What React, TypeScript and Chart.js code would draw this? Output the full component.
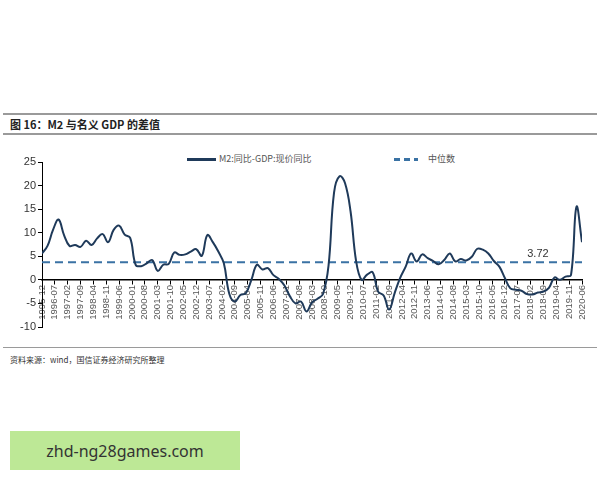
import React, { useEffect, useRef } from "react";
import { Chart, registerables } from "chart.js";

Chart.register(...registerables);

// x-axis tick labels (every 7 months from 1995-12 to 2020-06)
const tickLabels = [
  "1995-12", "1996-07", "1997-02", "1997-09", "1998-04", "1998-11", "1999-06",
  "2000-01", "2000-08", "2001-03", "2001-10", "2002-05", "2002-12", "2003-07",
  "2004-02", "2004-09", "2005-04", "2005-11", "2006-06", "2007-01", "2007-08",
  "2008-03", "2008-10", "2009-05", "2009-12", "2010-07", "2011-02", "2011-09",
  "2012-04", "2012-11", "2013-06", "2014-01", "2014-08", "2015-03", "2015-10",
  "2016-05", "2016-12", "2017-07", "2018-02", "2018-09", "2019-04", "2019-11",
  "2020-06",
];

// quarterly values, 1995Q4 .. 2020Q2 (M2 yoy minus nominal GDP yoy)
const diffValues = [
  5.6,                    // 1995Q4
  7.2, 10.6, 12.8, 9.5,   // 1996
  7.2, 7.4, 7.0, 8.3,     // 1997
  7.4, 8.8, 9.7, 8.0,     // 1998
  10.6, 11.5, 9.6, 8.9,   // 1999
  3.2, 2.9, 3.5, 4.2,     // 2000
  1.9, 3.2, 3.4, 5.8,     // 2001
  5.3, 5.4, 6.0, 6.5,     // 2002
  5.1, 9.5, 8.0, 6.0,     // 2003
  3.5, -3.0, -4.6, -3.2,  // 2004
  -2.8, 0.0, 3.2, 2.2,    // 2005
  2.5, 1.0, 0.2, -1.2,    // 2006
  -3.5, -5.0, -4.6, -6.7, // 2007
  -4.8, -4.0, -3.0, 3.0,  // 2008
  18.5, 22.0, 20.5, 14.5, // 2009
  4.0, 0.0, 1.1, 1.6,     // 2010
  -2.5, -3.3, -6.3, -2.8, // 2011
  0.4, 2.8, 5.6, 3.9,     // 2012
  5.4, 4.6, 4.0, 3.3,     // 2013
  4.2, 5.6, 3.9, 4.4,     // 2014
  4.1, 4.9, 6.6, 6.4,     // 2015
  5.6, 4.0, 2.8, 0.4,     // 2016
  -1.8, -2.1, -2.3, -3.0, // 2017
  -3.1, -2.7, -2.5, -1.7, // 2018
  0.5, 0.0, 0.7, 1.0,     // 2019
  15.5, 8.0,              // 2020
];

const medianValue = 3.72;
const monthsPerQuarter = 3;
const tickStepMonths = 7;
const medianLabelMonth = 270;

const seriesName = "M2:同比-GDP:现价同比";
const medianName = "中位数";
const titleText = "图 16：M2 与名义 GDP 的差值";
const sourceText = "资料来源：wind，国信证券经济研究所整理";
const watermarkText = "zhd-ng28games.com";

const lineColor = "#1f3a5a";
const medianColor = "#3a72a4";

export default function App() {
  const ref = useRef<HTMLCanvasElement>(null);

  useEffect(() => {
    const canvas = ref.current;
    if (!canvas) return;
    const lineData = diffValues.map((v, i) => ({ x: i * monthsPerQuarter, y: v }));
    const lastX = (diffValues.length - 1) * monthsPerQuarter;
    const medianData = [
      { x: 0, y: medianValue },
      { x: lastX, y: medianValue },
    ];
    const medianLabel = {
      id: "medianLabel",
      afterDatasetsDraw(chart: any) {
        const { ctx, scales } = chart;
        ctx.save();
        ctx.font = '11px Arial, "Liberation Sans", sans-serif';
        ctx.fillStyle = "#333";
        ctx.textAlign = "center";
        ctx.textBaseline = "bottom";
        ctx.fillText(
          medianValue.toFixed(2),
          scales.x.getPixelForValue(medianLabelMonth),
          scales.y.getPixelForValue(medianValue) - 3
        );
        ctx.restore();
      },
    };
    Chart.defaults.font.family = 'Arial, "Liberation Sans", sans-serif';
    const chart = new Chart(canvas, {
      type: "line",
      data: {
        datasets: [
          {
            label: seriesName,
            data: lineData,
            borderColor: lineColor,
            borderWidth: 2,
            pointRadius: 0,
            tension: 0.4,
            fill: false,
          },
          {
            label: medianName,
            data: medianData,
            borderColor: medianColor,
            borderWidth: 2,
            borderDash: [8, 5],
            pointRadius: 0,
            tension: 0,
            fill: false,
          },
        ],
      },
      options: {
        responsive: false,
        animation: false,
        layout: { padding: { top: 14, right: 18, bottom: 18, left: 0 } },
        plugins: { legend: { display: false }, tooltip: { enabled: false } },
        scales: {
          x: {
            type: "linear",
            position: { y: 0 } as any,
            min: 0,
            max: lastX,
            grid: {
              display: true,
              drawOnChartArea: false,
              drawTicks: true,
              tickLength: 4,
              color: "#000",
            },
            border: { display: true, color: "#000", width: 1.5 },
            ticks: {
              stepSize: tickStepMonths,
              autoSkip: false,
              minRotation: 90,
              maxRotation: 90,
              padding: 1,
              color: "#555",
              font: { size: 9.5 },
              callback: (v: any) => tickLabels[Math.round(Number(v) / tickStepMonths)] ?? "",
            },
          },
          y: {
            min: -10,
            max: 25,
            ticks: { stepSize: 5, color: "#333", font: { size: 11 }, padding: 2 },
            grid: {
              drawOnChartArea: false,
              drawTicks: true,
              tickLength: 4,
              color: "#000",
            },
            border: { display: true, color: "#000", width: 1 },
            afterFit: (s: any) => {
              s.width = 42;
            },
          },
        },
      },
      plugins: [medianLabel],
    });
    return () => chart.destroy();
  }, []);

  const cjk = '"Noto Sans CJK SC", Arial, sans-serif';

  return (
    <div
      style={{
        position: "absolute",
        left: 0,
        top: 0,
        width: 600,
        height: 480,
        background: "#fff",
        overflow: "hidden",
        fontFamily: cjk,
      }}
    >
      <div style={{ position: "absolute", left: 3, top: 113, width: 594, height: 2, background: "#9a9a9a" }} />
      <div
        style={{
          position: "absolute",
          left: 10,
          top: 116,
          fontSize: 11,
          fontWeight: "bold",
          color: "#222",
          lineHeight: "16px",
          whiteSpace: "nowrap",
        }}
      >
        {titleText}
      </div>
      <div style={{ position: "absolute", left: 3, top: 133, width: 594, height: 2, background: "#9a9a9a" }} />

      <div style={{ position: "absolute", left: 187, top: 158, width: 29, height: 2.5, background: lineColor }} />
      <div
        style={{
          position: "absolute",
          left: 219,
          top: 152,
          fontSize: 9,
          color: "#555",
          lineHeight: "13px",
          whiteSpace: "nowrap",
        }}
      >
        {seriesName}
      </div>
      <div
        style={{
          position: "absolute",
          left: 394,
          top: 158,
          width: 24,
          height: 2.5,
          background: `repeating-linear-gradient(to right, ${medianColor} 0 6px, transparent 6px 10px)`,
        }}
      />
      <div
        style={{
          position: "absolute",
          left: 428,
          top: 152,
          fontSize: 9,
          color: "#555",
          lineHeight: "13px",
          whiteSpace: "nowrap",
        }}
      >
        {medianName}
      </div>

      <canvas
        ref={ref}
        width={600}
        height={197}
        style={{ position: "absolute", left: 0, top: 148, width: 600, height: 197 }}
      />

      <div style={{ position: "absolute", left: 3, top: 347, width: 594, height: 1, background: "#9a9a9a" }} />
      <div
        style={{
          position: "absolute",
          left: 10,
          top: 354,
          fontSize: 8,
          color: "#333",
          lineHeight: "12px",
          whiteSpace: "nowrap",
        }}
      >
        {sourceText}
      </div>

      <div
        style={{
          position: "absolute",
          left: 10,
          top: 431,
          width: 230,
          height: 39,
          background: "#bde896",
          display: "flex",
          alignItems: "center",
          justifyContent: "center",
          fontFamily: '"Noto Sans", Arial, sans-serif',
          fontSize: 16,
          color: "#333",
        }}
      >
        {watermarkText}
      </div>
    </div>
  );
}
